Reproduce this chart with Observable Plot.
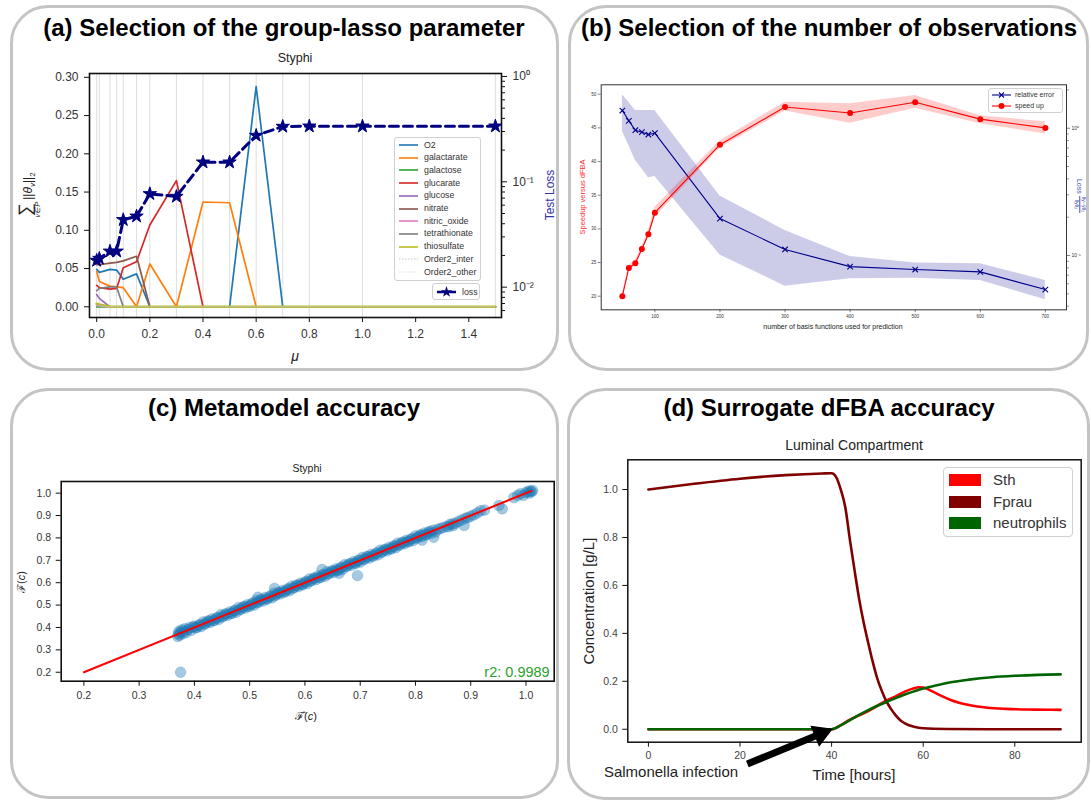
<!DOCTYPE html>
<html><head><meta charset="utf-8">
<script src="https://cdn.jsdelivr.net/npm/d3@7"></script>
<script src="https://cdn.jsdelivr.net/npm/@observablehq/plot@0.6"></script>
<style>
html,body{margin:0;padding:0;background:#fff;}
#root{position:relative;width:1091px;height:803px;overflow:hidden;font-family:"Liberation Sans",Arial,sans-serif;color:#333;}
.box{position:absolute;border:3px solid #c4c4c4;border-radius:38px;box-sizing:border-box;}
.ttl{position:absolute;font-weight:bold;font-size:24px;color:#000;white-space:nowrap;transform:translate(-50%,-50%);}
.lbl{position:absolute;white-space:nowrap;transform:translate(-50%,-50%);line-height:1;}
.rot{transform:translate(-50%,-50%) rotate(-90deg);}
.rotcw{transform:translate(-50%,-50%) rotate(90deg);}
.plotwrap{position:absolute;}
.plotwrap svg{display:block;overflow:visible;}
.legend{position:absolute;background:rgba(255,255,255,0.85);border:1px solid #d0d0d0;border-radius:3px;box-sizing:border-box;}
.lrow{position:absolute;white-space:nowrap;line-height:1;}
</style></head><body><div id="root"></div>
<script>
// ================= DATA =================
// (a) group-lasso selection
const muValues = [0, 0.01, 0.05, 0.075, 0.1, 0.15, 0.2, 0.3, 0.4, 0.5, 0.6, 0.7, 0.8, 1.0, 1.5];
const testLoss = [0.0179, 0.0187, 0.0219, 0.0219, 0.0436, 0.0471, 0.0769, 0.0725, 0.1535, 0.1535, 0.275, 0.335, 0.337, 0.337, 0.337];
const groupNames = ["O2","galactarate","galactose","glucarate","glucose","nitrate","nitric_oxide","tetrathionate","thiosulfate","Order2_inter","Order2_other"];
const groupColors = ["#1f77b4","#ff7f0e","#2ca02c","#d62728","#9467bd","#8c564b","#e377c2","#7f7f7f","#bcbd22","#aaaaaa","#cccccc"];
const normO2            = [0.049,0.045,0.049,0.048,0.036,0.043,0,0,0,0,0.288,0,0,0,0];
const normGalactarate   = [0.046,0.033,0.027,0.026,0.025,0,0.056,0,0.137,0.136,0,0,0,0,0];
const normGalactose     = [0,0,0,0,0,0,0,0,0,0,0,0,0,0,0];
const normGlucarate     = [0.028,0.025,0.023,0.024,0.051,0.059,0.107,0.165,0,0,0,0,0,0,0];
const normGlucose       = [0.016,0.011,0,0,0,0,0,0,0,0,0,0,0,0,0];
const normNitrate       = [0.055,0.055,0.057,0.058,0.060,0.066,0,0,0,0,0,0,0,0,0];
const normNitricOxide   = [0.002,0.001,0,0,0,0,0,0,0,0,0,0,0,0,0];
const normTetrathionate = [0.021,0.024,0.026,0.026,0,0,0,0,0,0,0,0,0,0,0];
const normThiosulfate   = [0.004,0.003,0,0,0,0,0,0,0,0,0,0,0,0,0];
const normOrder2Inter   = [0.003,0.002,0,0,0,0,0,0,0,0,0,0,0,0,0];
const normOrder2Other   = [0.001,0.001,0,0,0,0,0,0,0,0,0,0,0,0,0];
const groupNorms = [normO2,normGalactarate,normGalactose,normGlucarate,normGlucose,normNitrate,normNitricOxide,normTetrathionate,normThiosulfate,normOrder2Inter,normOrder2Other];
const muTicks = [0,0.2,0.4,0.6,0.8,1.0,1.2,1.4];
const normTicks = [0,0.05,0.1,0.15,0.2,0.25,0.3];

// (b) number of observations
const nBasis = [50,60,70,80,90,100,200,300,400,500,600,700];
const speedup      = [20.0,24.2,24.9,27.0,29.2,32.4,42.5,48.1,47.2,48.8,46.3,45.0];
const speedupLow   = [19.6,23.8,24.5,26.6,28.7,31.7,42.0,47.5,45.7,47.9,45.6,44.1];
const speedupHigh  = [20.4,24.6,25.3,27.4,29.7,33.2,43.1,48.8,48.6,49.8,46.8,45.9];
const relError     = [1.377,1.143,0.964,0.930,0.892,0.914,0.195,0.1115,0.0818,0.0776,0.0744,0.054];
const relErrorHigh = [1.83,1.60,1.377,1.377,1.377,1.377,0.294,0.157,0.098,0.0875,0.086,0.0637];
const relErrorLow  = [0.947,0.731,0.557,0.480,0.408,0.417,0.101,0.0574,0.0656,0.0664,0.0637,0.0449];
const basisTicks = [100,200,300,400,500,600,700];
const speedTicks = [20,25,30,35,40,45,50];

// (c) metamodel accuracy: predicted vs true
const predF = [0.370,0.371,0.372,0.373,0.375,0.377,0.379,0.381,0.383,0.385,0.388,0.391,0.394,0.397,
0.400,0.404,0.408,0.412,0.416,0.420,0.424,0.428,0.432,0.436,0.440,0.444,0.448,0.452,0.456,0.460,0.464,0.468,0.472,0.476,
0.480,0.484,0.488,0.492,0.496,0.500,0.504,0.508,0.512,0.516,0.520,0.524,0.528,0.532,0.536,0.540,0.544,0.548,0.552,0.556,
0.560,0.564,0.568,0.572,0.576,0.580,0.584,0.588,0.592,0.596,0.600,0.604,0.608,0.612,0.616,0.620,0.624,0.628,0.632,0.636,
0.640,0.644,0.648,0.652,0.656,0.660,0.664,0.668,0.672,0.676,0.680,0.684,0.688,0.692,0.696,0.700,0.704,0.708,0.712,0.716,
0.720,0.724,0.728,0.732,0.736,0.740,0.744,0.748,0.752,0.756,0.760,0.764,0.768,0.772,0.776,0.780,0.784,0.788,0.792,0.796,
0.800,0.804,0.808,0.812,0.816,0.820,0.824,0.828,
0.402,0.410,0.418,0.426,0.434,0.442,0.450,0.458,0.466,0.474,0.482,0.490,0.498,0.506,0.514,0.522,0.530,0.538,0.546,0.554,
0.562,0.570,0.578,0.586,0.594,0.602,0.610,0.618,0.626,0.634,0.642,0.650,0.658,0.666,0.674,0.682,0.690,0.698,0.706,0.714,
0.722,0.730,0.738,0.746,0.754,0.762,0.770,0.778,0.786,0.794,0.802,0.810,0.818,0.826,
0.832,0.836,0.833,0.812,0.840,0.845,0.850,0.856,0.862,0.867,0.872,0.878,0.884,0.888,0.890,0.895,0.900,0.906,0.912,0.918,
0.925,0.951,0.957,0.978,0.985,0.990,0.995,1.000,1.004,1.008,1.010,1.012,1.006,
0.375,0.695,0.631,0.545,0.515,0.662,0.868,0.860];
const trueF = [0.360,0.372,0.383,0.366,0.378,0.389,0.371,0.384,0.395,0.378,0.390,0.399,0.387,0.402,
0.406,0.399,0.410,0.404,0.425,0.418,0.428,0.422,0.438,0.431,0.442,0.436,0.457,0.450,0.460,0.454,0.470,0.463,0.474,0.468,
0.489,0.482,0.492,0.486,0.502,0.495,0.506,0.500,0.521,0.514,0.524,0.518,0.534,0.527,0.538,0.532,0.553,0.546,0.556,0.550,
0.566,0.559,0.570,0.564,0.585,0.578,0.588,0.582,0.598,0.591,0.602,0.596,0.617,0.610,0.620,0.614,0.630,0.623,0.634,0.628,
0.649,0.642,0.652,0.646,0.662,0.655,0.666,0.660,0.681,0.674,0.684,0.678,0.694,0.687,0.698,0.692,0.713,0.706,0.716,0.710,
0.726,0.719,0.730,0.724,0.745,0.738,0.748,0.742,0.758,0.751,0.762,0.756,0.777,0.770,0.780,0.774,0.790,0.783,0.794,0.788,
0.809,0.802,0.812,0.806,0.822,0.815,0.826,0.820,
0.399,0.413,0.415,0.429,0.431,0.445,0.447,0.461,0.463,0.477,0.479,0.493,0.495,0.509,0.511,0.525,0.527,0.541,0.543,0.557,
0.559,0.573,0.575,0.589,0.591,0.605,0.607,0.621,0.623,0.637,0.639,0.653,0.655,0.669,0.671,0.685,0.687,0.701,0.703,0.717,
0.719,0.733,0.735,0.749,0.751,0.765,0.767,0.781,0.783,0.797,0.799,0.813,0.815,0.829,
0.835,0.826,0.803,0.790,0.838,0.842,0.846,0.851,0.860,0.863,0.866,0.874,0.880,0.856,0.888,0.891,0.897,0.903,0.912,0.922,
0.924,0.945,0.930,0.980,0.990,0.998,0.990,1.003,1.008,1.010,1.006,1.012,1.000,
0.200,0.632,0.659,0.575,0.535,0.642,0.855,0.850];
const identityEnds = [0.2, 1.01];
const accTicks = [0.2,0.3,0.4,0.5,0.6,0.7,0.8,0.9,1.0];

// (d) surrogate dFBA
const sthTime  = [0,40,42,44,46,48,50,52,54,56,58,59,60,62,64,66,68,70,74,78,84,90];
const sthConc  = [0,0,0.017,0.040,0.058,0.076,0.098,0.120,0.137,0.157,0.171,0.175,0.174,0.158,0.139,0.122,0.110,0.101,0.090,0.085,0.082,0.081];
const fprauTime = [0,10,20,30,38,40,41,42,43,44,45,46,47,48,49,50,51,52,53,54,55,56,58,60,65,75,90];
const fprauConc = [1.000,1.024,1.045,1.060,1.067,1.068,1.052,1.000,0.925,0.790,0.665,0.545,0.445,0.360,0.280,0.210,0.158,0.115,0.084,0.058,0.038,0.025,0.010,0.004,0.001,0,0];
const neutTime = [0,40,42,44,46,48,50,52,54,56,58,60,63,66,70,75,80,85,90];
const neutConc = [0,0,0.016,0.038,0.060,0.080,0.098,0.114,0.130,0.145,0.158,0.170,0.184,0.196,0.207,0.217,0.223,0.227,0.229];
const speciesNames = ["Sth","Fprau","neutrophils"];
const speciesColors = ["#ff0000","#800000","#006400"];
const timeTicks = [0,20,40,60,80];
const concTicks = [0,0.2,0.4,0.6,0.8,1.0];
const infectionArrow = {fromT:21.6, fromC:-0.145, toT:40, toC:0};

// ================= HELPERS =================
const root = document.getElementById("root");
function el(cls, style, html){ const e=document.createElement("div"); if(cls) e.className=cls; Object.assign(e.style, style||{}); if(html!=null) e.innerHTML=html; root.appendChild(e); return e;}
function place(svg, left, top){ const w=document.createElement("div"); w.className="plotwrap"; w.style.left=left+"px"; w.style.top=top+"px"; w.appendChild(svg); root.appendChild(w); return w;}
const baseStyle = {background:"transparent", overflow:"visible", fontFamily:"'Liberation Sans', Arial, sans-serif", color:"#333"};
const sup = {"0":"⁰","1":"¹","2":"²","-":"⁻"};
function sciFmt(v){ const e=Math.round(Math.log10(v)); return "10" + String(e).split("").map(c=>sup[c]).join(""); }
function lineSample(color, width, dash, marker){
  let s = `<svg width="20" height="8" style="position:absolute;left:0;top:-4px;overflow:visible"><line x1="0" y1="4" x2="19" y2="4" stroke="${color}" stroke-width="${width}" ${dash?`stroke-dasharray="${dash}"`:""}/>`;
  if(marker) s += marker;
  return s + "</svg>";
}

// ================= BOXES & TITLES =================
el("box",{left:"10px",top:"5px",width:"549px",height:"366px"});
el("box",{left:"568px",top:"5px",width:"521px",height:"366px"});
el("box",{left:"10px",top:"388px",width:"549px",height:"411px"});
el("box",{left:"567px",top:"388px",width:"523px",height:"412px"});
el("ttl",{left:"284px",top:"28px"},"(a) Selection of the group-lasso parameter");
el("ttl",{left:"829px",top:"28px"},"(b) Selection of the number of observations");
el("ttl",{left:"284px",top:"408px"},"(c) Metamodel accuracy");
el("ttl",{left:"829px",top:"408px"},"(d) Surrogate dFBA accuracy");

// ================= PANEL A =================
{
  const dims = {width:500,height:290,marginLeft:50,marginRight:38,marginTop:10,marginBottom:36};
  const xDom = [-0.027,1.523];
  const lines = groupNames.map((g,i)=>Plot.line(muValues,{
    x:d=>d, y:(d,j)=>groupNorms[i][j], stroke:groupColors[i],
    strokeWidth: g==="thiosulfate"?2.6:(g.startsWith("Order2")?0.7:1.7),
    strokeDasharray: g.startsWith("Order2")?"1.5,1.5":null
  }));
  const pA = Plot.plot({...dims, style:baseStyle,
    x:{domain:xDom}, y:{domain:[-0.014,0.305]},
    marks:[
      Plot.ruleX(muValues,{stroke:"#d6d6d6",strokeWidth:0.8}),
      ...lines,
      Plot.frame({stroke:"#111",strokeWidth:1.6}),
      Plot.axisX({ticks:muTicks,tickFormat:d3.format(".1f"),tickSize:5,tickPadding:7,fontSize:12,label:null,stroke:"#111",fill:"#333"}),
      Plot.axisY({ticks:normTicks,tickFormat:d3.format(".2f"),tickSize:5,tickPadding:6,fontSize:12,label:null,stroke:"#111",fill:"#333"})
    ]});
  place(pA,39,63);
  const minorA = [];
  [0.001,0.01,0.1].forEach(b=>{for(let k=2;k<=9;k++){const v=b*k; if(v>0.0052 && v<1) minorA.push(v);}});
  const lossRows = muValues.map((m,i)=>({mu:m, loss:testLoss[i]}));
  const pA2 = Plot.plot({...dims, style:baseStyle,
    x:{domain:xDom, axis:null}, y:{type:"log", domain:[Math.pow(10,-2.288), Math.pow(10,0.028)]},
    marks:[
      Plot.line(lossRows,{x:"mu",y:"loss",stroke:"#000080",strokeWidth:3,strokeDasharray:"9,5"}),
      Plot.dot(lossRows,{x:"mu",y:"loss",symbol:"star",r:4.2,fill:"#000080",stroke:"#000080",strokeWidth:1}),
      Plot.axisY({anchor:"right",ticks:[1,0.1,0.01],tickFormat:sciFmt,tickSize:5,tickPadding:6,fontSize:12,label:null,stroke:"#111",fill:"#333"}),
      Plot.axisY({anchor:"right",ticks:minorA,tickFormat:()=>"",tickSize:3,label:null,stroke:"#111"})
    ]});
  place(pA2,39,63);
  el("lbl",{left:"295px",top:"58px",fontSize:"12.5px",color:"#222"},"Styphi");
  el("lbl",{left:"295px",top:"356px",fontSize:"14px",fontStyle:"italic",color:"#222"},"μ");
  el("lbl rot",{left:"550px",top:"195px",fontSize:"12px",color:"#3434a4"},"Test Loss");
  el("lbl rot",{left:"29px",top:"195px",fontSize:"12px",color:"#222",display:"flex",alignItems:"center"},
    `<span style="display:inline-block;text-align:center;line-height:1"><span style="display:block;font-size:18px;line-height:16px">∑</span><span style="display:block;font-size:7.5px;font-style:italic;line-height:8px;margin-top:1px">v∈P</span></span><span style="margin-left:2px;line-height:1">||<i>θ</i><span style="font-size:8px;font-style:italic;vertical-align:-3px">v</span>||<span style="font-size:8px;vertical-align:-3px">2</span></span>`);
  // legend
  const lg = el("legend",{left:"394px",top:"137px",width:"87px",height:"144px"});
  groupNames.forEach((g,i)=>{
    const r=document.createElement("div"); r.className="lrow";
    Object.assign(r.style,{left:"4px",top:(7+i*12.7)+"px",fontSize:"8.8px",color:"#333"});
    const o2=g.startsWith("Order2");
    r.innerHTML = lineSample(groupColors[i], o2?0.7:1.6, o2?"1.5,1.5":null) + `<span style="position:absolute;left:25px;top:-4.5px">${g}</span>`;
    lg.appendChild(r);
  });
  const lg2 = el("legend",{left:"432px",top:"283px",width:"48px",height:"17px"});
  const r2=document.createElement("div"); r2.className="lrow";
  Object.assign(r2.style,{left:"4px",top:"8px",fontSize:"8.8px",color:"#333"});
  r2.innerHTML = lineSample("#000080",2.5,null,`<path transform="translate(9.5,4)" d="${d3.symbol(d3.symbolStar, 40)()}" fill="#000080"/>`) + `<span style="position:absolute;left:25px;top:-4.5px">loss</span>`;
  lg2.appendChild(r2);
}

// ================= PANEL B =================
{
  const dims = {width:515,height:265,marginLeft:25.7,marginRight:24,marginTop:9.3,marginBottom:30.7};
  const xDom = [17.5,732.5];
  const rowsB = nBasis.map((n,i)=>({n, s:speedup[i], sl:speedupLow[i], sh:speedupHigh[i], e:relError[i], el:relErrorLow[i], eh:relErrorHigh[i]}));
  const minorB = [0.04,0.05,0.06,0.07,0.08,0.09,0.2,0.3,0.4,0.5,0.6,0.7,0.8,0.9,2];
  const pB2 = Plot.plot({...dims, style:baseStyle,
    x:{domain:xDom, axis:null}, y:{type:"log", domain:[Math.pow(10,-1.4266), Math.pow(10,0.341)]},
    marks:[
      Plot.areaY(rowsB,{x:"n",y1:"el",y2:"eh",fill:"#00008b",fillOpacity:0.2}),
      Plot.line(rowsB,{x:"n",y:"e",stroke:"#00008b",strokeWidth:1.1}),
      Plot.dot(rowsB,{x:"n",y:"e",symbol:"times",r:2.6,stroke:"#00008b",strokeWidth:1.1}),
      Plot.axisY({anchor:"right",ticks:[1,0.1],tickFormat:sciFmt,tickSize:3,tickPadding:2,fontSize:5,label:null,stroke:"#333",fill:"#333",strokeWidth:0.6}),
      Plot.axisY({anchor:"right",ticks:minorB,tickFormat:()=>"",tickSize:2,label:null,stroke:"#333",strokeWidth:0.5})
    ]});
  place(pB2,575,75);
  const pB = Plot.plot({...dims, style:baseStyle,
    x:{domain:xDom}, y:{domain:[17.98,51.4]},
    marks:[
      Plot.areaY(rowsB,{x:"n",y1:"sl",y2:"sh",fill:"#ff0000",fillOpacity:0.2}),
      Plot.line(rowsB,{x:"n",y:"s",stroke:"#ff0000",strokeWidth:1.1}),
      Plot.dot(rowsB,{x:"n",y:"s",r:3,fill:"#ff0000"}),
      Plot.frame({stroke:"#333",strokeWidth:1}),
      Plot.axisX({ticks:basisTicks,tickSize:3,tickPadding:2,fontSize:4.5,label:null,stroke:"#333",fill:"#333",strokeWidth:0.6}),
      Plot.axisY({ticks:speedTicks,tickSize:3,tickPadding:2,fontSize:4.5,label:null,stroke:"#333",fill:"#333",strokeWidth:0.6})
    ]});
  place(pB,575,75);
  el("lbl",{left:"833px",top:"326px",fontSize:"7px",color:"#222"},"number of basis functions used for prediction");
  el("lbl rot",{left:"583px",top:"197px",fontSize:"7.5px",color:"#ff3333"},"Speedup versus dFBA");
  el("lbl rotcw",{left:"1080px",top:"196px",fontSize:"7px",color:"#5050b8",display:"flex",alignItems:"center"},
    `Loss&nbsp;<span style="display:inline-flex;flex-direction:column;align-items:center;font-size:5.5px;line-height:1.05"><span style="border-bottom:0.7px solid #5050b8;padding:0 1px">‖y−ŷ‖₂</span><span>‖y‖₂</span></span>`);
  const lg = el("legend",{left:"988px",top:"88px",width:"75px",height:"25px"});
  const rowsL = [
    {t:"relative error", c:"#00008b", m:`<path d="M7,1.5L12,6.5M12,1.5L7,6.5" stroke="#00008b" stroke-width="1.1"/>`},
    {t:"speed up", c:"#ff0000", m:`<circle cx="9.5" cy="4" r="3" fill="#ff0000"/>`}
  ];
  rowsL.forEach((d,i)=>{
    const r=document.createElement("div"); r.className="lrow";
    Object.assign(r.style,{left:"3px",top:(6+i*10.8)+"px",fontSize:"7px",color:"#333"});
    r.innerHTML = lineSample(d.c,1.1,null,d.m) + `<span style="position:absolute;left:23px;top:-3.7px">${d.t}</span>`;
    lg.appendChild(r);
  });
}

// ================= PANEL C =================
{
  const dims = {width:540,height:230,marginLeft:40.7,marginRight:6.3,marginTop:11,marginBottom:19.3};
  const pts = predF.map((x,i)=>({x, y:trueF[i]}));
  const pC = Plot.plot({...dims, style:baseStyle,
    x:{domain:[0.159,1.051]}, y:{domain:[0.160,1.052]},
    marks:[
      Plot.dot(pts,{x:"x",y:"y",r:5.4,fill:"#1f77b4",fillOpacity:0.4,stroke:"#1f77b4",strokeOpacity:0.2,strokeWidth:1}),
      Plot.line(identityEnds,{x:d=>d,y:d=>d,stroke:"#ff0000",strokeWidth:2}),
      Plot.frame({stroke:"#111",strokeWidth:1.6}),
      Plot.axisX({ticks:accTicks,tickFormat:d3.format(".1f"),tickSize:5,tickPadding:5,fontSize:10.5,label:null,stroke:"#111",fill:"#333"}),
      Plot.axisY({ticks:accTicks,tickFormat:d3.format(".1f"),tickSize:5,tickPadding:5,fontSize:10.5,label:null,stroke:"#111",fill:"#333"})
    ]});
  place(pC,20,470);
  el("lbl",{left:"307px",top:"468px",fontSize:"10.5px",color:"#222"},"Styphi");
  el("lbl",{left:"517px",top:"672px",fontSize:"14.5px",color:"#2ca02c"},"r2: 0.9989");
  el("lbl",{left:"306px",top:"716px",fontSize:"11px",color:"#222"},"ℱ̂(<i>c</i>)");
  el("lbl rot",{left:"21px",top:"582px",fontSize:"11px",color:"#222"},"ℱ(<i>c</i>)");
}

// ================= PANEL D =================
{
  const dims = {width:510,height:310,marginLeft:52.3,marginRight:4.3,marginTop:9.3,marginBottom:18.3};
  const xDom=[-4.5,94.5], yDom=[-0.054,1.124];
  const kx = (dims.width-dims.marginLeft-dims.marginRight)/(xDom[1]-xDom[0]);
  const ky = (dims.height-dims.marginTop-dims.marginBottom)/(yDom[1]-yDom[0]);
  const a = infectionArrow;
  const dx = (a.toT-a.fromT)*kx, dy = -(a.toC-a.fromC)*ky;
  const len = Math.hypot(dx,dy), ux=dx/len, uy=dy/len;
  const headR = 7.5, back = 2/3*Math.sqrt(3)/2*Math.sqrt(4*Math.PI*headR*headR/Math.sqrt(3));
  const hc = {t:a.toT - back*ux/kx, c:a.toC + back*uy/ky};
  const rotDeg = Math.atan2(dx,-dy)*180/Math.PI;
  const series = [
    {t:sthTime,c:sthConc,col:speciesColors[0]},
    {t:fprauTime,c:fprauConc,col:speciesColors[1]},
    {t:neutTime,c:neutConc,col:speciesColors[2]}
  ];
  const pD = Plot.plot({...dims, style:baseStyle,
    x:{domain:xDom}, y:{domain:yDom},
    marks:[
      ...series.map(s=>Plot.line(s.t,{x:d=>d,y:(d,i)=>s.c[i],stroke:s.col,strokeWidth:2.6,curve:"monotone-x"})),
      Plot.frame({stroke:"#111",strokeWidth:1.5}),
      Plot.axisX({ticks:timeTicks,tickSize:5,tickPadding:4,fontSize:10.5,label:null,stroke:"#111",fill:"#444"}),
      Plot.axisY({ticks:concTicks,tickFormat:d3.format(".1f"),tickSize:5,tickPadding:5,fontSize:10.5,label:null,stroke:"#111",fill:"#444"}),
      Plot.link([a],{x1:"fromT",y1:"fromC",x2:()=>hc.t,y2:()=>hc.c,stroke:"#000",strokeWidth:7,strokeLinecap:"butt"}),
      Plot.dot([hc],{x:"t",y:"c",symbol:"triangle",r:headR,rotate:rotDeg,fill:"#000",stroke:"#000"})
    ]});
  place(pD,575,450);
  el("lbl",{left:"854px",top:"445px",fontSize:"14px",color:"#222"},"Luminal Compartment");
  el("lbl",{left:"854px",top:"774px",fontSize:"15px",color:"#222"},"Time [hours]");
  el("lbl rot",{left:"588px",top:"601px",fontSize:"15px",color:"#222"},"Concentration [g/L]");
  el("lbl",{left:"671px",top:"771px",fontSize:"15px",color:"#222"},"Salmonella infection");
  const lg = el("legend",{left:"943px",top:"467px",width:"130px",height:"70px",borderRadius:"4px"});
  speciesNames.forEach((n,i)=>{
    const r=document.createElement("div"); r.className="lrow";
    Object.assign(r.style,{left:"5px",top:(12+i*21.5)+"px",fontSize:"15px",color:"#333"});
    r.innerHTML = `<div style="position:absolute;left:0;top:-6px;width:32px;height:12px;background:${speciesColors[i]}"></div><span style="position:absolute;left:44px;top:-8px">${n}</span>`;
    lg.appendChild(r);
  });
}
</script></body></html>
